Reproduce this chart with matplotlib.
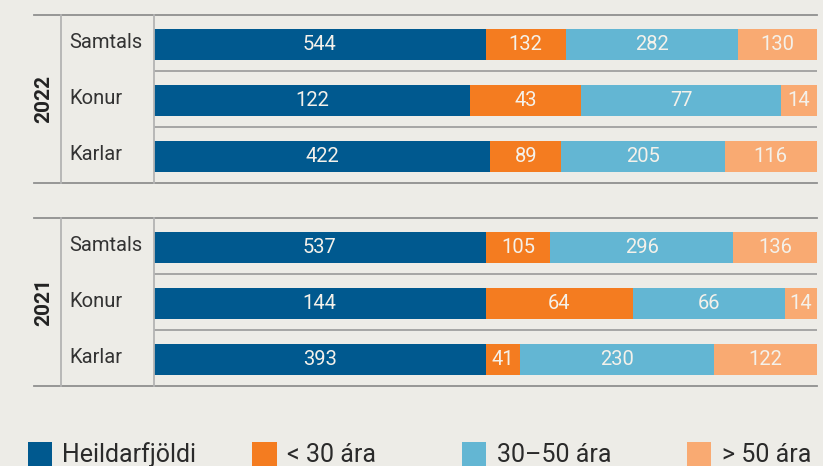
import matplotlib.pyplot as plt
from matplotlib.lines import Line2D
from matplotlib.patches import Rectangle

# data
years = ['2022', '2021']
groups = ['Samtals', 'Konur', 'Karlar']
series = ['Heildarfjöldi', '< 30 ára', '30–50 ára', '> 50 ára']
values_2022 = [[544, 132, 282, 130],
               [122, 43, 77, 14],
               [422, 89, 205, 116]]
values_2021 = [[537, 105, 296, 136],
               [144, 64, 66, 14],
               [393, 41, 230, 122]]
colors = ['#00598f', '#f47c20', '#63b6d3', '#f9aa72']

W, H = 823, 466
bg = '#edece7'
plt.rcParams['font.family'] = ['Roboto', 'DejaVu Sans']

fig = plt.figure(figsize=(W / 100, H / 100), dpi=100, facecolor=bg)


def fx(x):
    return x / W


def fy(y):
    return 1 - y / H


def hline(y, x0, x1, color='#8f8f8f', lw=1.3):
    fig.add_artist(Line2D([fx(x0), fx(x1)], [fy(y), fy(y)], color=color, lw=lw))


def vline(x, y0, y1, color='#b4b4b4', lw=1.3):
    fig.add_artist(Line2D([fx(x), fx(x)], [fy(y0), fy(y1)], color=color, lw=lw))


panel_tops = [15.3, 218.3]
panel_h = 168
bar_left, bar_right = 154, 817

for year, vals, top in zip(years, [values_2022, values_2021], panel_tops):
    bottom = top + panel_h
    ax = fig.add_axes([fx(bar_left), fy(bottom), fx(bar_right - bar_left), panel_h / H])
    ax.set_facecolor('none')
    ax.set_xlim(0, 1)
    ax.set_ylim(3, 0)
    ax.axis('off')

    for i, row in enumerate(vals):
        total = sum(row)
        left = 0
        for j, v in enumerate(row):
            w = v / total
            ax.barh(i + 0.52, w, left=left, height=0.55, color=colors[j], linewidth=0)
            ax.text(left + w / 2, i + 0.52, str(v), ha='center', va='center',
                    color='#f4f1ea', fontsize=14.5)
            left += w
    for k in [1, 2]:
        ax.axhline(k, color='#a0a0a0', lw=1.3)

    # frame lines
    hline(top, 34, bar_right)
    hline(bottom, 34, bar_right)
    vline(61, top, bottom)
    vline(154, top, bottom)

    fig.text(fx(44), fy(top + panel_h / 2), year, rotation=90, ha='center', va='center',
             fontsize=15, fontweight='bold', color='#222222')
    for i, g in enumerate(groups):
        fig.text(fx(69), fy(top + 56 * i + 27), g, ha='left', va='center',
                 fontsize=14.5, color='#333333')

# legend
legend_x = [27.5, 252.5, 462, 687]
for x, lab, c in zip(legend_x, series, colors):
    fig.add_artist(Rectangle((fx(x), 0), fx(24), fy(442), color=c, lw=0))
    fig.text(fx(x + 34.5), fy(462), lab, ha='left', va='baseline',
             fontsize=18, color='#2a2a2a')

fig.savefig('out.png', dpi=100, facecolor=bg)
